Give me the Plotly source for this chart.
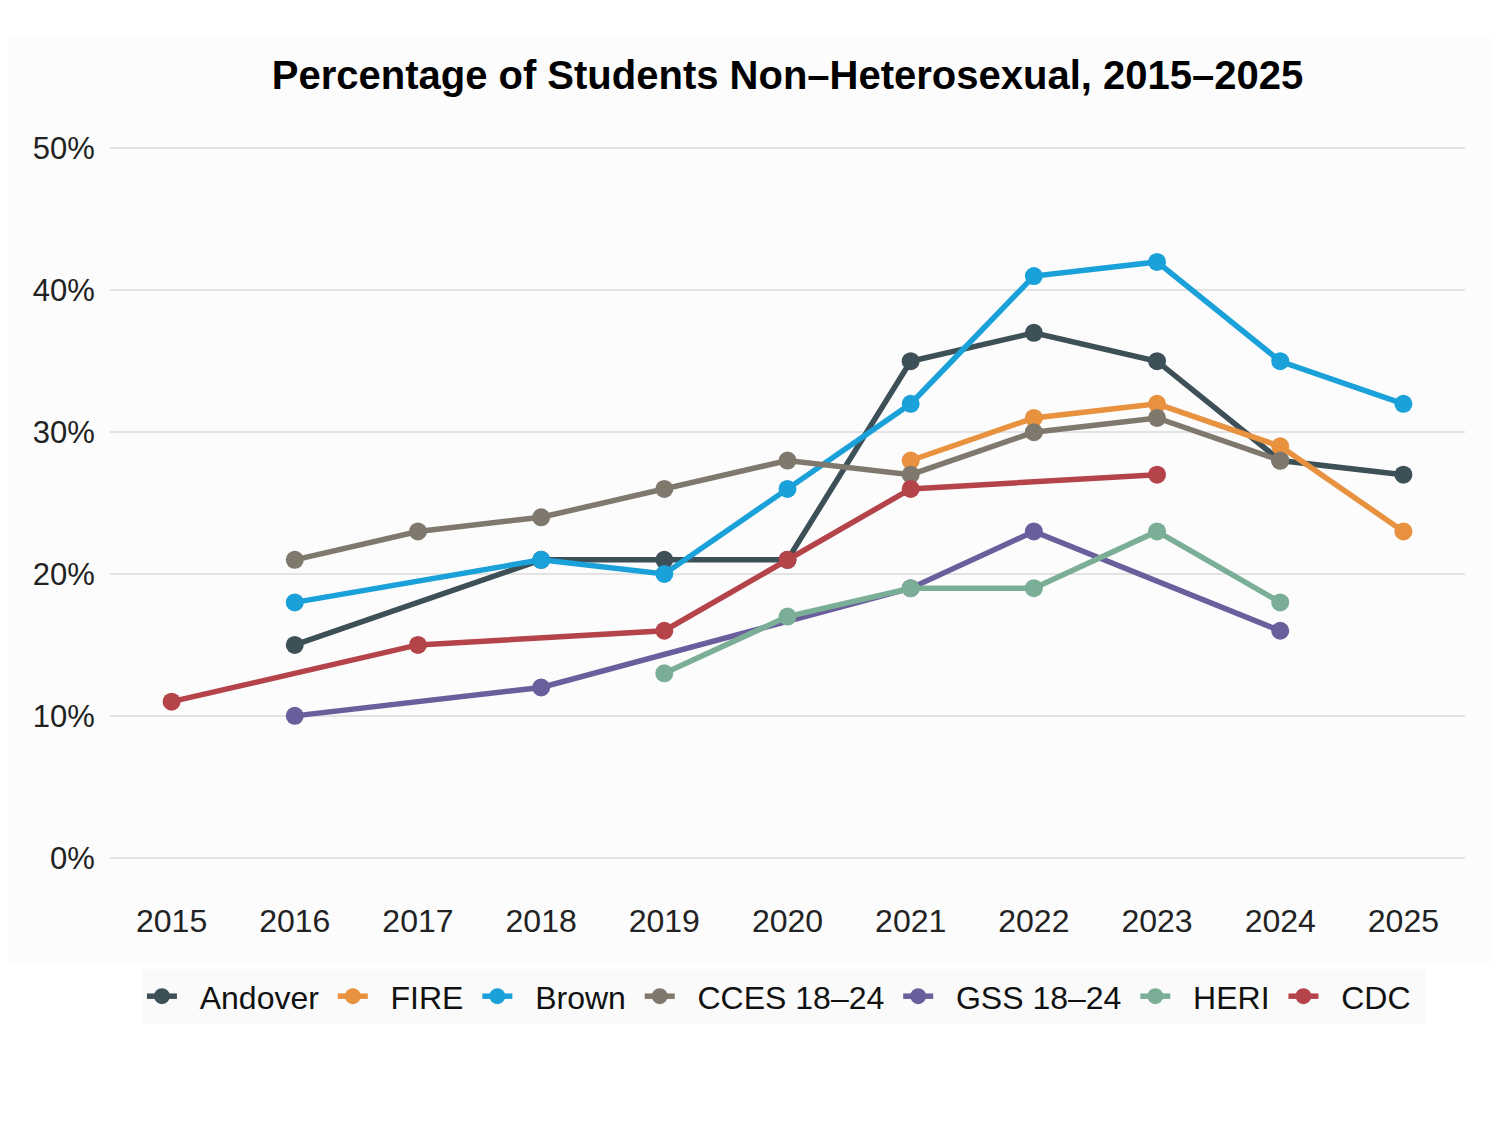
import plotly.graph_objects as go

# survey years on the x axis
years = [2015, 2016, 2017, 2018, 2019, 2020, 2021, 2022, 2023, 2024, 2025]

# each series: (years observed, percent non-heterosexual)
andover_years = [2016, 2018, 2019, 2020, 2021, 2022, 2023, 2024, 2025]
andover_vals = [15, 21, 21, 21, 35, 37, 35, 28, 27]

fire_years = [2021, 2022, 2023, 2024, 2025]
fire_vals = [28, 31, 32, 29, 23]

brown_years = [2016, 2018, 2019, 2020, 2021, 2022, 2023, 2024, 2025]
brown_vals = [18, 21, 20, 26, 32, 41, 42, 35, 32]

cces_years = [2016, 2017, 2018, 2019, 2020, 2021, 2022, 2023, 2024]
cces_vals = [21, 23, 24, 26, 28, 27, 30, 31, 28]

gss_years = [2016, 2018, 2021, 2022, 2024]
gss_vals = [10, 12, 19, 23, 16]

heri_years = [2019, 2020, 2021, 2022, 2023, 2024]
heri_vals = [13, 17, 19, 19, 23, 18]

cdc_years = [2015, 2017, 2019, 2020, 2021, 2023]
cdc_vals = [11, 15, 16, 21, 26, 27]

series = [
    ("Andover", andover_years, andover_vals, "#3d4f57"),
    ("FIRE", fire_years, fire_vals, "#e8913f"),
    ("Brown", brown_years, brown_vals, "#1ba1d9"),
    ("CCES 18–24", cces_years, cces_vals, "#7f786c"),
    ("GSS 18–24", gss_years, gss_vals, "#6b5e9c"),
    ("HERI", heri_years, heri_vals, "#7aae97"),
    ("CDC", cdc_years, cdc_vals, "#b4434a"),
]

fig = go.Figure()
for name, xs, ys, col in series:
    # nbsp padding gives the gap between legend symbol and label
    fig.add_trace(go.Scatter(x=xs, y=ys, name="\u00a0\u00a0" + name + "\u00a0", mode="lines+markers",
                             line=dict(color=col, width=5.5),
                             marker=dict(color=col, size=18)))

# light panel behind title + plot (page has an 8px body margin)
fig.add_shape(type="rect", xref="paper", yref="paper", x0=-0.076, x1=1.02, y0=-0.112, y1=1.123,
              fillcolor="#fcfcfc", line=dict(width=0), layer="below")

fig.update_layout(
    width=1500, height=1125,
    paper_bgcolor="white", plot_bgcolor="rgba(0,0,0,0)",
    font=dict(family="Liberation Sans, Arial, sans-serif", color="#222222", size=31),
    title=dict(text="<b>Percentage of Students Non–Heterosexual, 2015–2025</b>",
               x=0.5, xref="paper", y=1 - 67 / 1125, yref="container",
               xanchor="center", yanchor="middle",
               font=dict(size=40, color="black")),
    margin=dict(l=102, r=43, t=122, b=254),
    showlegend=True,
    legend=dict(orientation="h", x=0.497, xanchor="center", y=-0.12, yanchor="top",
                font=dict(size=32, color="#111111"), bgcolor="#fafafa",
                itemwidth=30, tracegroupgap=0),
)
fig.update_xaxes(range=[2014.5, 2025.5], tickvals=years, ticktext=[str(y) for y in years],
                 showgrid=False, zeroline=False, showline=False,
                 ticks="outside", ticklen=14, tickcolor="rgba(0,0,0,0)",
                 tickfont=dict(size=32, color="#222222"))
fig.update_yaxes(range=[-1.5, 51.3], tickvals=[0, 10, 20, 30, 40, 50],
                 ticktext=["0%", "10%", "20%", "30%", "40%", "50%"],
                 showgrid=True, gridcolor="#e3e3e3", gridwidth=2, zeroline=False, showline=False,
                 ticks="outside", ticklen=8, tickcolor="rgba(0,0,0,0)",
                 tickfont=dict(size=31, color="#222222"))

fig.write_html("out.html")
